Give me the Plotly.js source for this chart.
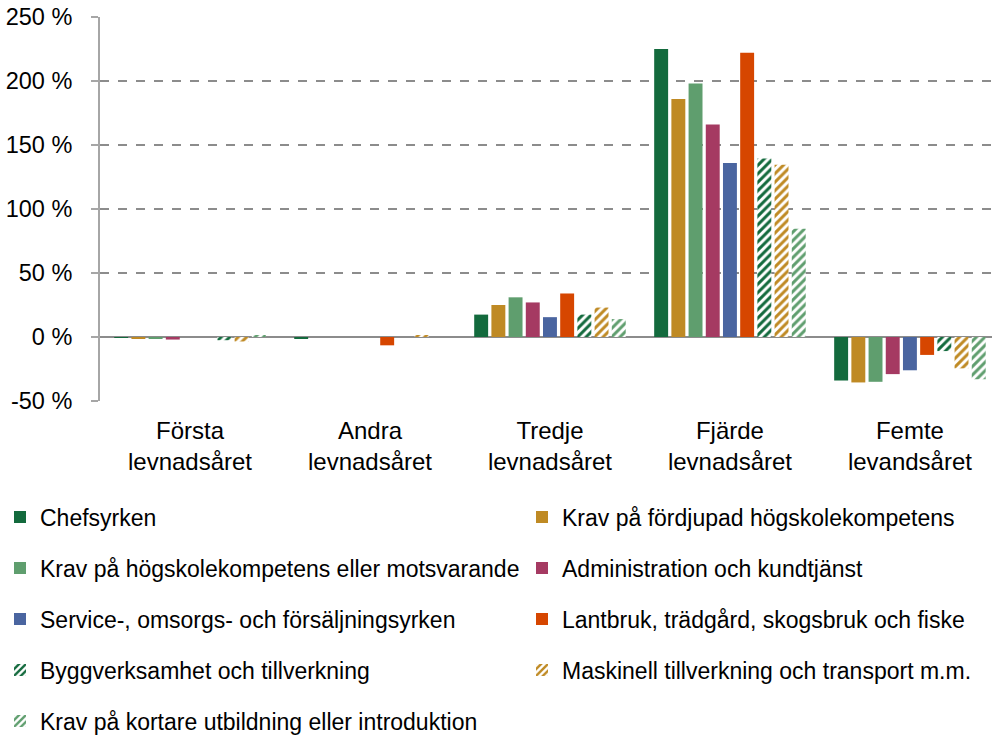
<!DOCTYPE html>
<html>
<head>
<meta charset="utf-8">
<script src="https://cdn.plot.ly/plotly-3.0.1.min.js"></script>
<style>
  html, body { margin: 0; padding: 0; background: #fff; }
  #chart { width: 992px; height: 739px; }
</style>
</head>
<body>
<div id="chart"></div>
<script>
// age groups (x categories)
const categories = [
  'Första<br>levnadsåret',
  'Andra<br>levnadsåret',
  'Tredje<br>levnadsåret',
  'Fjärde<br>levnadsåret',
  'Femte<br>levandsåret'
];

// series names
const seriesNames = [
  'Chefsyrken',
  'Krav på fördjupad högskolekompetens',
  'Krav på högskolekompetens eller motsvarande',
  'Administration och kundtjänst',
  'Service-, omsorgs- och försäljningsyrken',
  'Lantbruk, trädgård, skogsbruk och fiske',
  'Byggverksamhet och tillverkning',
  'Maskinell tillverkning och transport m.m.',
  'Krav på kortare utbildning eller introduktion'
];

// values in percent, one array per series
const chefsyrken   = [-0.3, -1.5, 17.5, 225, -34];
const fordjupad    = [-1, 0, 25, 186, -35.5];
const hogskola     = [-1, 0, 31, 198, -35];
const administration = [-2, 0, 27, 166, -29];
const service      = [0, 0, 15.5, 136, -26];
const lantbruk     = [0, -6.5, 34, 222, -14];
const bygg         = [-2.5, 0, 17.5, 139.5, -11];
const maskinell    = [-3.5, 1.5, 23, 134.5, -24.5];
const kortare      = [1, 0, 14, 84.5, -33];

const seriesValues = [chefsyrken, fordjupad, hogskola, administration, service,
  lantbruk, bygg, maskinell, kortare];

const colors = ['#136a3d', '#bf8a24', '#5f9e6e', '#a53a62', '#4a65a0',
  '#d64600', '#136a3d', '#bf8a24', '#5f9e6e'];
const striped = [false, false, false, false, false, false, true, true, true];

const yTicks = [-50, 0, 50, 100, 150, 200, 250];
const yTickText = ['-50 %', '0 %', '50 %', '100 %', '150 %', '200 %', '250 %'];

const font = 'Liberation Sans, Arial, sans-serif';

// legend: two columns, five rows (entries in reading order), in page pixels
const legendColX = [0, 522];
const legendRowY = [517, 568, 619, 670, 721];

const data = seriesNames.map((name, i) => {
  const marker = { color: colors[i], line: { width: 0 } };
  if (striped[i]) {
    marker.color = '#ffffff';
    marker.pattern = { shape: '/', fgcolor: colors[i], bgcolor: '#ffffff',
      size: 6, solidity: 0.5, fillmode: 'replace' };
  }
  return {
    type: 'bar',
    name: name,
    x: categories,
    y: seriesValues[i],
    marker: marker,
    legend: i === 0 ? 'legend' : 'legend' + (i + 1),
    hovertemplate: '%{y} %<extra>' + name + '</extra>'
  };
});

const layout = {
  width: 992,
  height: 739,
  margin: { l: 100, r: 0, t: 17, b: 338 },
  paper_bgcolor: '#ffffff',
  plot_bgcolor: '#ffffff',
  font: { family: font, size: 24, color: '#000000' },
  barmode: 'group',
  bargap: 0.14,
  bargroupgap: 0.19,
  xaxis: {
    type: 'category',
    range: [-0.5, 4.456],
    showgrid: false,
    showline: false,
    ticks: '',
    ticklabelstandoff: 13,
    tickfont: { family: font, size: 24, color: '#000000' }
  },
  yaxis: {
    range: [-50, 250],
    tickvals: yTicks,
    ticktext: yTickText,
    showgrid: true,
    gridcolor: '#8c8c8c',
    griddash: 'dash',
    gridwidth: 1.5,
    zeroline: true,
    zerolinecolor: '#8c8c8c',
    zerolinewidth: 2,
    showline: true,
    linecolor: '#a6a6a6',
    linewidth: 2,
    ticks: 'outside',
    ticklen: 7,
    tickwidth: 1.5,
    tickcolor: '#a6a6a6',
    ticklabelstandoff: 14,
    tickfont: { family: font, size: 23.5, color: '#000000' }
  },
  showlegend: true
};

seriesNames.forEach((name, i) => {
  const key = i === 0 ? 'legend' : 'legend' + (i + 1);
  layout[key] = {
    orientation: 'h',
    xref: 'container',
    yref: 'container',
    x: legendColX[i % 2] / 992,
    xanchor: 'left',
    y: 1 - legendRowY[Math.floor(i / 2)] / 739,
    yanchor: 'middle',
    bgcolor: 'rgba(0,0,0,0)',
    font: { family: font, size: 23, color: '#000000' }
  };
});

Plotly.newPlot('chart', data, layout, { displayModeBar: false });
</script>
</body>
</html>
